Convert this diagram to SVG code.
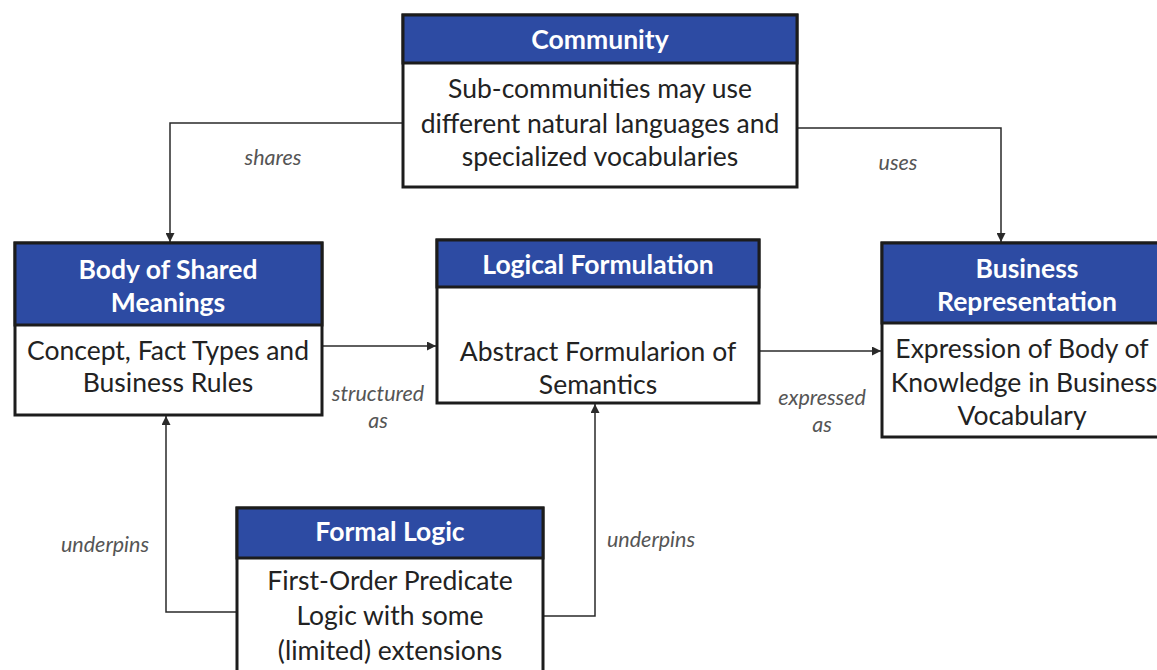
<svg xmlns="http://www.w3.org/2000/svg" width="1157" height="670" viewBox="0 0 1157 670">
  <style>
    .box { fill: #ffffff; stroke: #1c1c1c; stroke-width: 3; }
    .head { fill: #2d4ba3; stroke: #1c1c1c; stroke-width: 3; }
    .title { font-family: Lato, "Liberation Sans", sans-serif; font-weight: bold; font-size: 26.5px; fill: #ffffff; text-anchor: middle; }
    .body { font-family: Lato, "Liberation Sans", sans-serif; font-size: 26.5px; fill: #222222; text-anchor: middle; }
    .lbl { font-family: Lato, "Liberation Sans", sans-serif; font-style: italic; font-size: 21.5px; fill: #555555; text-anchor: middle; }
    .edge { fill: none; stroke: #2a2a2a; stroke-width: 1.5; }
  </style>
  <defs>
    <marker id="arrow" viewBox="0 0 10 10" refX="10" refY="5" markerWidth="9" markerHeight="9" markerUnits="userSpaceOnUse" orient="auto">
      <path d="M0,0 L10,5 L0,10 z" fill="#2a2a2a"/>
    </marker>
  </defs>
  <rect width="1157" height="670" fill="#ffffff"/>

  <!-- connectors -->
  <g id="connectors">
    <path class="edge" d="M403,123 H170 V242" marker-end="url(#arrow)"/>
    <text class="lbl" x="273" y="165">shares</text>
    <path class="edge" d="M797,128 H1001 V242" marker-end="url(#arrow)"/>
    <text class="lbl" x="898" y="170">uses</text>
    <path class="edge" d="M322,346 H436" marker-end="url(#arrow)"/>
    <text class="lbl" x="378" y="401">structured</text>
    <text class="lbl" x="378" y="428">as</text>
    <path class="edge" d="M760,351 H881" marker-end="url(#arrow)"/>
    <text class="lbl" x="822" y="405">expressed</text>
    <text class="lbl" x="822" y="432">as</text>
    <path class="edge" d="M237,612 H166 V416" marker-end="url(#arrow)"/>
    <text class="lbl" x="105" y="552">underpins</text>
    <path class="edge" d="M543,616 H595 V404" marker-end="url(#arrow)"/>
    <text class="lbl" x="651" y="547">underpins</text>
  </g>

  <!-- Community -->
  <g id="community">
    <rect class="box" x="403" y="15" width="394" height="172"/>
    <rect class="head" x="403" y="15" width="394" height="48"/>
    <text class="title" x="600" y="49">Community</text>
    <text class="body" x="600" y="98">Sub-communities may use</text>
    <text class="body" x="600" y="133">different natural languages and</text>
    <text class="body" x="600" y="166">specialized vocabularies</text>
  </g>

  <!-- Body of Shared Meanings -->
  <g id="shared-meanings">
    <rect class="box" x="15" y="243" width="307" height="172"/>
    <rect class="head" x="15" y="243" width="307" height="82"/>
    <text class="title" x="168" y="279">Body of Shared</text>
    <text class="title" x="168" y="312">Meanings</text>
    <text class="body" x="168" y="360">Concept, Fact Types and</text>
    <text class="body" x="168" y="392">Business Rules</text>
  </g>

  <!-- Logical Formulation -->
  <g id="logical-formulation">
    <rect class="box" x="437" y="240" width="322" height="163"/>
    <rect class="head" x="437" y="240" width="322" height="47"/>
    <text class="title" x="598" y="274">Logical Formulation</text>
    <text class="body" x="598" y="361">Abstract Formularion of</text>
    <text class="body" x="598" y="394">Semantics</text>
  </g>

  <!-- Business Representation -->
  <g id="business-representation">
    <rect class="box" x="882" y="243" width="290" height="194"/>
    <rect class="head" x="882" y="243" width="290" height="80"/>
    <text class="title" x="1027" y="278">Business</text>
    <text class="title" x="1027" y="311">Representation</text>
    <text class="body" x="1022" y="358">Expression of Body of</text>
    <text class="body" x="1024" y="392">Knowledge in Business</text>
    <text class="body" x="1022" y="425">Vocabulary</text>
  </g>

  <!-- Formal Logic -->
  <g id="formal-logic">
    <rect class="box" x="237" y="508" width="306" height="180"/>
    <rect class="head" x="237" y="508" width="306" height="50"/>
    <text class="title" x="390" y="541">Formal Logic</text>
    <text class="body" x="390" y="590">First-Order Predicate</text>
    <text class="body" x="390" y="625">Logic with some</text>
    <text class="body" x="390" y="660">(limited) extensions</text>
  </g>
</svg>
